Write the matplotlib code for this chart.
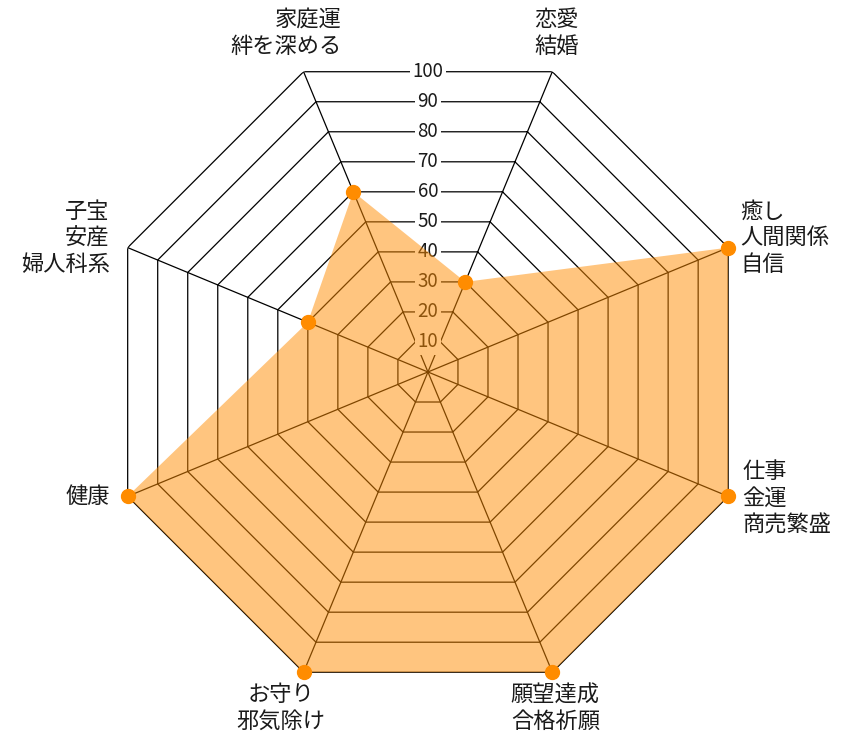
import numpy as np
import matplotlib
matplotlib.use("Agg")
import matplotlib.pyplot as plt

plt.rcParams["font.family"] = ["Noto Sans CJK JP", "DejaVu Sans"]

# datos del grafico (sentido horario desde arriba a la derecha)
categorias = [
    "恋愛\n結婚",
    "癒し\n人間関係\n自信",
    "仕事\n金運\n商売繁盛",
    "願望達成\n合格祈願",
    "お守り\n邪気除け",
    "健康",
    "子宝\n安産\n婦人科系",
    "家庭運\n絆を深める",
]
valores = [30, 100, 100, 100, 100, 100, 40, 60]
niveles = [10, 20, 30, 40, 50, 60, 70, 80, 90, 100]

# posicion de cada etiqueta respecto al vertice (pixeles) y alineacion
offsets = [(4, 39), (12, 10), (14, -2), (3, -36), (-23, -36), (-18, 0), (-18, 10), (38, 39)]
alineacion = ["center", "left", "left", "center", "center", "right", "right", "right"]

n = len(categorias)
angulos = np.deg2rad(22.5 + 45 * np.arange(n))
cerrar = np.append(angulos, angulos[0])

fig = plt.figure(figsize=(8.5, 7.48), dpi=100)
ax = fig.add_axes([0.1211, 0.0682, 0.7647, 0.869], projection="polar")
ax.set_theta_zero_location("N")
ax.set_theta_direction(-1)
ax.set_ylim(0, 100)
ax.set_xticks([])
ax.set_yticks([])
ax.grid(False)
ax.spines["polar"].set_visible(False)

# grilla octogonal
for v in niveles:
    ax.plot(cerrar, [v] * (n + 1), color="black", lw=0.9, zorder=1)
for a in angulos:
    ax.plot([a, a], [0, 100], color="black", lw=0.9, zorder=1)

# etiquetas de la escala sobre el eje vertical
for v in niveles:
    ax.text(0, v * np.cos(np.pi / 8), str(v), ha="center", va="center",
            fontsize=13.5, color="#1a1a1a", zorder=2,
            bbox=dict(boxstyle="square,pad=0.15", fc="white", ec="none"))

# area de datos
vals = valores + valores[:1]
ax.fill(cerrar, vals, color="#FF8C00", alpha=0.5, lw=0, zorder=3)
ax.plot(angulos, valores, "o", color="#FF8C00", markersize=10, zorder=4, clip_on=False)

# nombres de categorias
for a, lab, off, ha in zip(angulos, categorias, offsets, alineacion):
    ax.annotate(lab, xy=(a, 100), xytext=off, textcoords="offset pixels",
                ha=ha, va="center", fontsize=16, color="#1a1a1a",
                linespacing=1.2, annotation_clip=False)

fig.savefig("out.png", dpi=100)
